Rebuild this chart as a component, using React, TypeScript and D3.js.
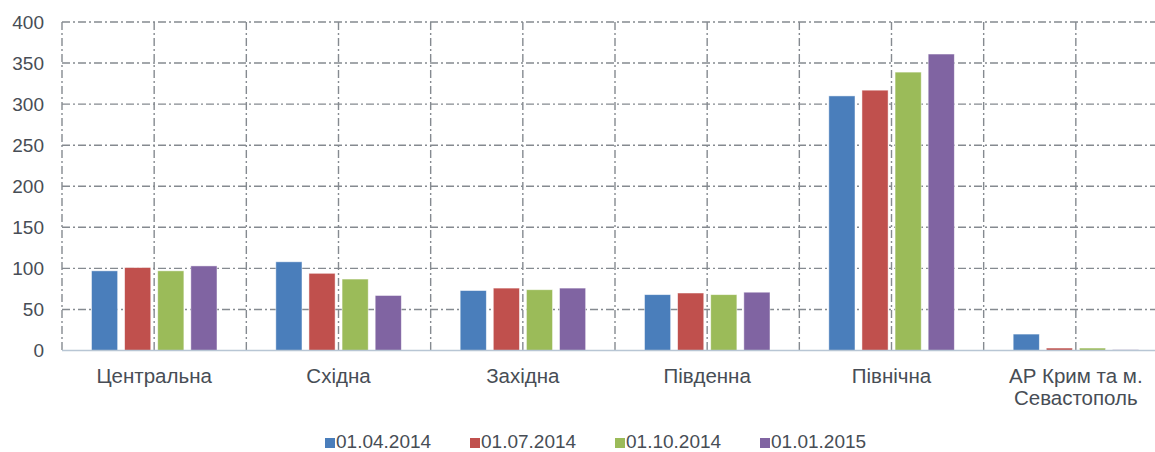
import React from "react";
import * as d3 from "d3";

const categories = ["Центральна", "Східна", "Західна", "Південна", "Північна", "АР Крим та м.|Севастополь"];
const seriesNames = ["01.04.2014", "01.07.2014", "01.10.2014", "01.01.2015"];
const colors = ["#4a7ebb", "#c0504d", "#9bbb59", "#8064a2"];
const s1 = [97, 108, 73, 68, 310, 20];
const s2 = [101, 94, 76, 70, 317, 3];
const s3 = [97, 87, 74, 68, 339, 3];
const s4 = [103, 67, 76, 71, 361, 1];
const seriesValues = [s1, s2, s3, s4];
const yTicks = [0, 50, 100, 150, 200, 250, 300, 350, 400];

const W = 1155;
const H = 452;
const left = 62;
const plotW = 1106;
const top = 22;
const bottom = 350.5;

export default function App() {
  const x0 = d3.scaleBand<string>().domain(categories).range([left, left + plotW]).padding(0);
  const bw = x0.bandwidth();
  const x1 = d3
    .scaleBand<string>()
    .domain(seriesNames)
    .range([29.5, 155])
    .paddingInner(0.21)
    .paddingOuter(0);
  const y = d3.scaleLinear().domain([0, 400]).range([bottom, top]);
  const grid = "#858a90";
  const dash = "8,3,2,3";
  const textColor = "#474d55";
  const font = "'Liberation Sans', Arial, sans-serif";

  const vLines: number[] = [];
  categories.forEach((c) => {
    vLines.push(x0(c)!);
    vLines.push(x0(c)! + bw / 2);
  });

  const legendItemW = [107, 107, 107, 107];
  const legendGap = 38;
  const legendStart = 325;

  return (
    <svg
      width={W}
      height={H}
      style={{ position: "absolute", left: 0, top: 0, background: "#fff" }}
      fontFamily={font}
    >
      {yTicks.filter((t) => t > 0).map((t) => (
        <line key={"h" + t} x1={left} x2={W} y1={y(t)} y2={y(t)} stroke={grid} strokeWidth={1.4} strokeDasharray={dash} />
      ))}
      {vLines.map((vx, i) => (
        <line key={"v" + i} x1={vx} x2={vx} y1={top} y2={bottom} stroke={grid} strokeWidth={1.4} strokeDasharray={dash} />
      ))}
      {seriesValues.map((vals, si) =>
        vals.map((v, ci) => (
          <rect
            key={si + "-" + ci}
            x={x0(categories[ci])! + x1(seriesNames[si])!}
            y={y(v)}
            width={x1.bandwidth()}
            height={bottom - y(v)}
            fill={colors[si]}
            stroke="#ffffff"
            strokeOpacity={0.6}
            strokeWidth={0.8}
          />
        ))
      )}
      <line x1={left} x2={W} y1={bottom} y2={bottom} stroke="#b8c6d4" strokeWidth={1.5} />
      {yTicks.map((t) => (
        <text key={"t" + t} x={44} y={y(t)} dy="0.35em" textAnchor="end" fontSize={19} fill={textColor}>
          {t}
        </text>
      ))}
      {categories.map((c) => {
        const lines = c.split("|");
        return (
          <text key={c} x={x0(c)! + bw / 2} y={383} textAnchor="middle" fontSize={20.5} fill={textColor}>
            {lines.map((l, i) => (
              <tspan key={i} x={x0(c)! + bw / 2} dy={i === 0 ? 0 : 21.5}>
                {l}
              </tspan>
            ))}
          </text>
        );
      })}
      {seriesNames.map((s, i) => {
        const lx = legendStart + legendItemW.slice(0, i).reduce((a, b) => a + b, 0) + legendGap * i;
        return (
          <g key={s}>
            <rect x={lx} y={438} width={10} height={10} fill={colors[i]} />
            <text x={lx + 11} y={448} fontSize={19} fill={textColor}>
              {s}
            </text>
          </g>
        );
      })}
    </svg>
  );
}
